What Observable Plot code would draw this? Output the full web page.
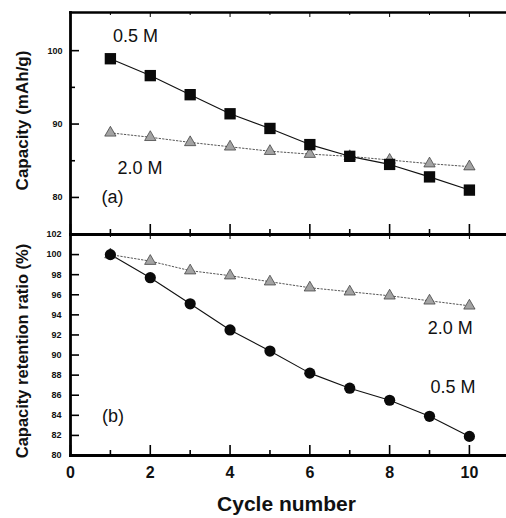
<!DOCTYPE html>
<html><head><meta charset="utf-8">
<script src="https://cdn.jsdelivr.net/npm/d3@7"></script>
<script src="https://cdn.jsdelivr.net/npm/@observablehq/plot@0.6"></script>
<style>
body{margin:0;background:#fff;}
#wrap{position:relative;width:506px;height:518px;overflow:hidden;background:#fff;}
#wrap svg{position:absolute;left:0;}
</style></head><body><div id="wrap"></div>
<script>
// ---- data ----
const cycles = [1, 2, 3, 4, 5, 6, 7, 8, 9, 10];
const capacity05 = [98.9, 96.6, 94.0, 91.4, 89.4, 87.2, 85.6, 84.5, 82.8, 81.0];
const capacity20 = [88.8, 88.2, 87.5, 86.9, 86.3, 85.9, 85.6, 85.1, 84.6, 84.2];
const retention05 = [100.0, 97.7, 95.1, 92.5, 90.4, 88.2, 86.7, 85.5, 83.9, 81.9];
const retention20 = [100.0, 99.35, 98.4, 97.9, 97.3, 96.7, 96.3, 95.9, 95.4, 94.9];
const xTicks = [0, 2, 4, 6, 8, 10];
const xMinorTicks = [1, 3, 5, 7, 9];
const capTicks = [80, 90, 100];
const capMinorTicks = [85, 95];
const retTicks = [80, 82, 84, 86, 88, 90, 92, 94, 96, 98, 100, 102];
const seriesNames = ["0.5 M", "2.0 M"];
const panelNames = ["(a)", "(b)"];
const xTitle = "Cycle number";
const capTitle = "Capacity (mAh/g)";
const retTitle = "Capacity retention ratio (%)";
// annotation anchor positions (data units)
const capNotes = [
  {label: seriesNames[0], x: 1.63, y: 102.0},
  {label: seriesNames[1], x: 1.74, y: 84.0},
  {label: panelNames[0], x: 1.05, y: 80.0}
];
const retNotes = [
  {label: seriesNames[1], x: 9.52, y: 92.7},
  {label: seriesNames[0], x: 9.59, y: 86.8},
  {label: panelNames[1], x: 1.065, y: 83.9}
];

const rows = (ys) => cycles.map((c, i) => ({cycle: c, value: ys[i]}));
const FONT = "Liberation Sans, Arial, sans-serif";
const xDomain = [0, 10.93];

function commonX(showLabels) {
  const marks = [
    Plot.axisX(xTicks, {anchor: "bottom", tickSize: -10, tickFormat: () => "", strokeWidth: 1.6}),
    Plot.axisX(xMinorTicks, {anchor: "bottom", tickSize: -5, tickFormat: () => "", strokeWidth: 1.6}),
    Plot.axisX(xTicks, {anchor: "top", tickSize: -4, tickFormat: () => "", strokeWidth: 1}),
    Plot.axisX(xMinorTicks, {anchor: "top", tickSize: -2, tickFormat: () => "", strokeWidth: 1})
  ];
  if (showLabels) marks.push(Plot.axisX(xTicks, {anchor: "bottom", tickSize: 0, tickPadding: 11, fontSize: 16, fontWeight: "bold", fontFamily: FONT, fill: "#111"}));
  return marks;
}

// ---- top panel ----
const topChart = Plot.plot({
  width: 506, height: 240,
  marginTop: 12, marginBottom: 6, marginLeft: 70, marginRight: 0,
  style: {background: "transparent", overflow: "visible", fontFamily: FONT},
  x: {domain: xDomain, label: null},
  y: {domain: [74.95, 105.2], label: null},
  marks: [
    ...commonX(false),
    Plot.axisY(capTicks, {anchor: "left", tickSize: -9, tickFormat: () => "", strokeWidth: 1.6}),
    Plot.axisY(capMinorTicks, {anchor: "left", tickSize: -5, tickFormat: () => "", strokeWidth: 1.6}),
    Plot.axisY(capTicks, {anchor: "left", tickSize: 0, tickPadding: 8, fontSize: 9, fontWeight: "bold", fontFamily: FONT, fill: "#111"}),
    Plot.text([capTitle], {frameAnchor: "left", textAnchor: "middle", dx: -48, dy: -3, rotate: -90, fontSize: 17, fontWeight: "bold", fontFamily: FONT, fill: "#111"}),
    Plot.line(rows(capacity20), {x: "cycle", y: "value", stroke: "#555", strokeWidth: 1, strokeDasharray: "1.5,2"}),
    Plot.line(rows(capacity05), {x: "cycle", y: "value", stroke: "#111", strokeWidth: 1.1}),
    Plot.dot(rows(capacity20), {x: "cycle", y: "value", symbol: "triangle", r: 4.2, fill: "#a3a3a3", stroke: "#333", strokeWidth: 0.7}),
    Plot.dot(rows(capacity05), {x: "cycle", y: "value", symbol: "square", r: 6.4, fill: "#0a0a0a"}),
    Plot.text(capNotes, {x: "x", y: "y", text: "label", fontSize: 18, fontFamily: FONT, fill: "#111"}),
    Plot.frame({anchor: "top", strokeWidth: 2.6}),
    Plot.frame({anchor: "left", strokeWidth: 2.8}),
    Plot.frame({anchor: "bottom", strokeWidth: 2.8})
  ]
});
topChart.style.top = "0px";

// ---- bottom panel ----
const bottomChart = Plot.plot({
  width: 506, height: 296,
  marginTop: 12, marginBottom: 63, marginLeft: 70, marginRight: 0,
  style: {background: "transparent", overflow: "visible", fontFamily: FONT},
  x: {domain: xDomain, label: null},
  y: {domain: [80, 102], label: null},
  marks: [
    ...commonX(true),
    Plot.axisY(retTicks, {anchor: "left", tickSize: -9, tickFormat: () => "", strokeWidth: 1.6}),
    Plot.axisY(retTicks, {anchor: "left", tickSize: 0, tickPadding: 9, fontSize: 9, fontWeight: "bold", fontFamily: FONT, fill: "#111"}),
    Plot.text([retTitle], {frameAnchor: "left", textAnchor: "middle", dx: -48, dy: 6, rotate: -90, fontSize: 16.5, fontWeight: "bold", fontFamily: FONT, fill: "#111"}),
    Plot.text([xTitle], {frameAnchor: "bottom", dx: -2, dy: 55, lineAnchor: "bottom", fontSize: 21, fontWeight: "bold", fontFamily: FONT, fill: "#111"}),
    Plot.line(rows(retention20), {x: "cycle", y: "value", stroke: "#555", strokeWidth: 1, strokeDasharray: "1.5,2"}),
    Plot.line(rows(retention05), {x: "cycle", y: "value", stroke: "#111", strokeWidth: 1.1}),
    Plot.dot(rows(retention20), {x: "cycle", y: "value", symbol: "triangle", r: 4.2, fill: "#a3a3a3", stroke: "#333", strokeWidth: 0.7}),
    Plot.dot(rows(retention05), {x: "cycle", y: "value", symbol: "circle", r: 5.6, fill: "#0a0a0a"}),
    Plot.text(retNotes, {x: "x", y: "y", text: "label", fontSize: 18, fontFamily: FONT, fill: "#111"}),
    Plot.frame({anchor: "top", strokeWidth: 2.8}),
    Plot.frame({anchor: "left", strokeWidth: 2.8}),
    Plot.frame({anchor: "bottom", strokeWidth: 2.8})
  ]
});
bottomChart.style.top = "222px";

const wrap = document.getElementById("wrap");
wrap.appendChild(topChart);
wrap.appendChild(bottomChart);
</script></body></html>
